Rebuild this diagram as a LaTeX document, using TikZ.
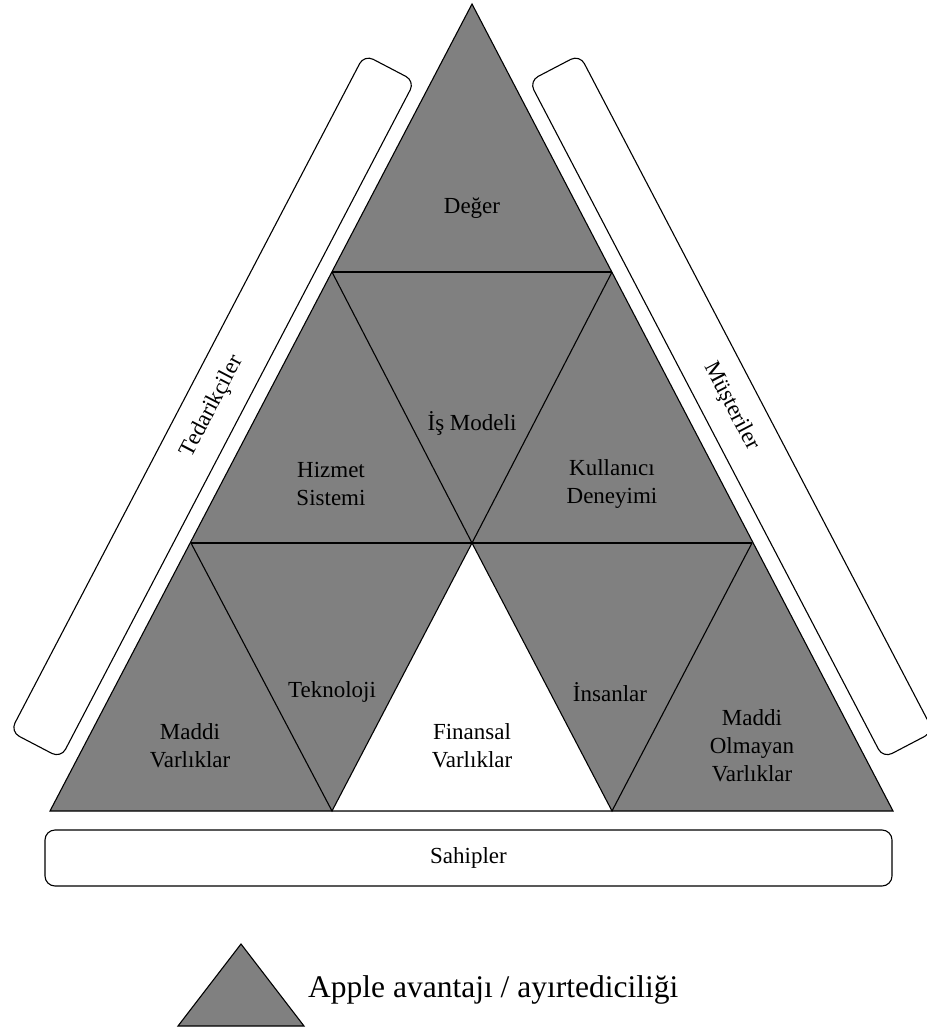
\documentclass[tikz,border=0pt]{standalone}
\usepackage{fontspec}
\setmainfont{Liberation Serif}
\begin{document}
\begin{tikzpicture}[x=1pt,y=-1pt,
  lbl/.style={align=center,font=\fontsize{23}{28}\selectfont,inner sep=0pt},
  edge/.style={line width=1.1pt,black},
  sidebox/.style={draw,line width=1.1pt,rounded corners=10pt,minimum width=764pt,minimum height=57pt,
    font=\fontsize{23}{28}\selectfont,inner sep=0pt},
  advantage/.style={fill=black!50}]
\useasboundingbox (0,0) rectangle (926,1032);

% corner points of the pyramid
\coordinate (A) at (472,4);
\coordinate (L1) at (332,272);
\coordinate (R1) at (612,272);
\coordinate (L2) at (191,543);
\coordinate (M2) at (472,543);
\coordinate (R2) at (752,543);
\coordinate (L3) at (50,811);
\coordinate (M3a) at (332,811);
\coordinate (M3b) at (612,811);
\coordinate (R3) at (893,811);

% shaded pyramid with the white financial-assets triangle
\fill[advantage] (A) -- (L3) -- (R3) -- cycle;
\fill[white] (M2) -- (M3a) -- (M3b) -- cycle;

% subdivision lines
\draw[edge,line join=miter] (A) -- (L3) -- (R3) -- cycle;
\draw[edge] (L1) -- (R1);
\draw[edge] (L2) -- (R2);
\draw[edge] (L1) -- (M2) -- (R1);
\draw[edge] (L2) -- (M3a) -- (M2) -- (M3b) -- (R2);

% stakeholder boxes
\node[sidebox,rotate=62.4] (supp) at (212.6,406.4) {Tedarikçiler};
\node[sidebox,rotate=-62.4] (cust) at (731.4,406.4) {Müşteriler};
\node[draw,line width=1.1pt,rounded corners=10pt,minimum width=847pt,minimum height=56pt,
  font=\fontsize{23}{28}\selectfont,inner sep=0pt] (own) at (468.5,858) {Sahipler};

% segment labels
\node[lbl] (deger) at (472,208) {Değer};
\node[lbl] (ismodel) at (472,423) {İş Modeli};
\node[lbl] (hizmet) at (331,484) {Hizmet\\Sistemi};
\node[lbl] (kullanici) at (612,484) {Kullanıcı\\Deneyimi};
\node[lbl] (tekno) at (332,692) {Teknoloji};
\node[lbl] (insan) at (610,692) {İnsanlar};
\node[lbl] (maddi) at (190,746) {Maddi\\Varlıklar};
\node[lbl] (finans) at (472,746) {Finansal\\Varlıklar};
\node[lbl] (madolm) at (752,746) {Maddi\\Olmayan\\Varlıklar};

% legend
\coordinate (kA) at (241,944);
\coordinate (kL) at (178,1026);
\coordinate (kR) at (304,1026);
\draw[line width=1.1pt,fill=black!50] (kA) -- (kL) -- (kR) -- cycle;
\node[anchor=base west,inner sep=0pt,font=\fontsize{31.5}{36}\selectfont] (key) at (308,997) {Apple avantajı / ayırtediciliği};
\end{tikzpicture}
\end{document}
